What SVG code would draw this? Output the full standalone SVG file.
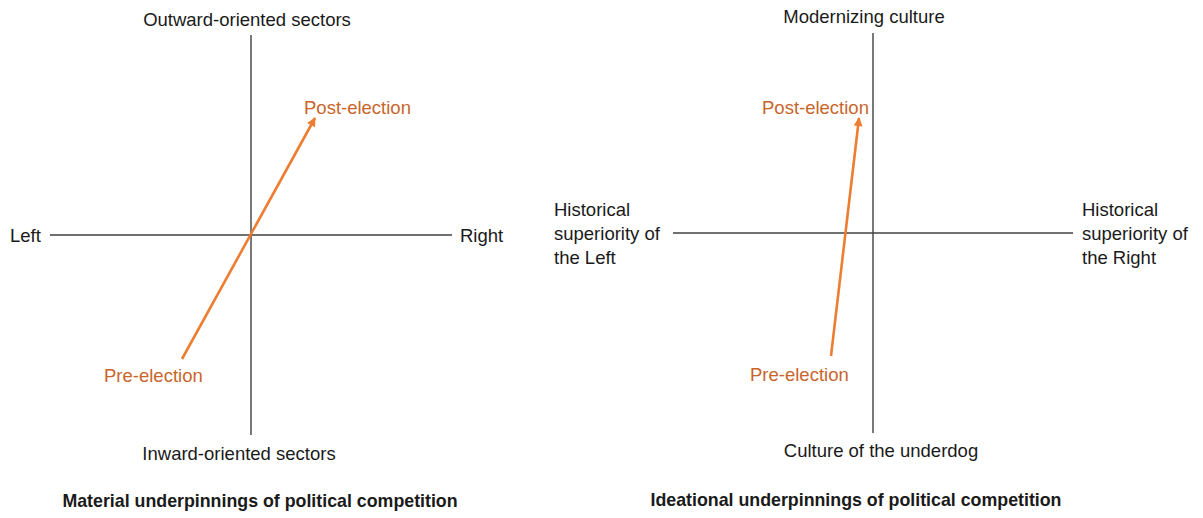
<svg xmlns="http://www.w3.org/2000/svg" width="1203" height="518" viewBox="0 0 1203 518">
<defs>
<style>
.ax{stroke:#404040;stroke-width:1.4;fill:none}
.arr{stroke:#ED7D31;stroke-width:2.6;fill:none}
text{font-family:"Liberation Sans",Arial,sans-serif;font-size:18.5px;fill:#1a1a1a}
.o{fill:#C9652B}
.t{font-weight:bold;font-size:17.8px}
.m{text-anchor:middle}
</style>
<marker id="ah" viewBox="0 0 10 10" refX="9" refY="5" markerWidth="10" markerHeight="9" markerUnits="userSpaceOnUse" orient="auto">
<path d="M0,0 L10,5 L0,10 Z" fill="#ED7D31"/>
</marker>
</defs>
<rect width="1203" height="518" fill="#fff"/>
<g id="connectors">
<line class="ax" x1="251" y1="35" x2="251" y2="435"/>
<line class="ax" x1="50" y1="235" x2="452" y2="235"/>
<line class="arr" x1="182" y1="359" x2="315" y2="118" marker-end="url(#ah)"/>
<line class="ax" x1="873" y1="33" x2="873" y2="433"/>
<line class="ax" x1="673" y1="233" x2="1073" y2="233"/>
<line class="arr" x1="831" y1="356" x2="859" y2="118" marker-end="url(#ah)"/>
</g>
<g id="material">
<text class="m" x="247" y="26">Outward-oriented sectors</text>
<text x="10" y="242">Left</text>
<text x="460" y="242">Right</text>
<text class="o" x="304" y="114">Post-election</text>
<text class="o" x="104" y="382">Pre-election</text>
<text class="m" x="239" y="460">Inward-oriented sectors</text>
<text class="t m" x="260" y="507">Material underpinnings of political competition</text>
</g>
<g id="ideational">
<text class="m" x="864" y="23">Modernizing culture</text>
<text class="o" x="762" y="114">Post-election</text>
<text class="o" x="750" y="381">Pre-election</text>
<text class="m" x="881" y="457">Culture of the underdog</text>
<text x="554" y="216">Historical</text>
<text x="554" y="240">superiority of</text>
<text x="554" y="264">the Left</text>
<text x="1082" y="216">Historical</text>
<text x="1082" y="240">superiority of</text>
<text x="1082" y="264">the Right</text>
<text class="t m" x="856" y="506">Ideational underpinnings of political competition</text>
</g>
</svg>
